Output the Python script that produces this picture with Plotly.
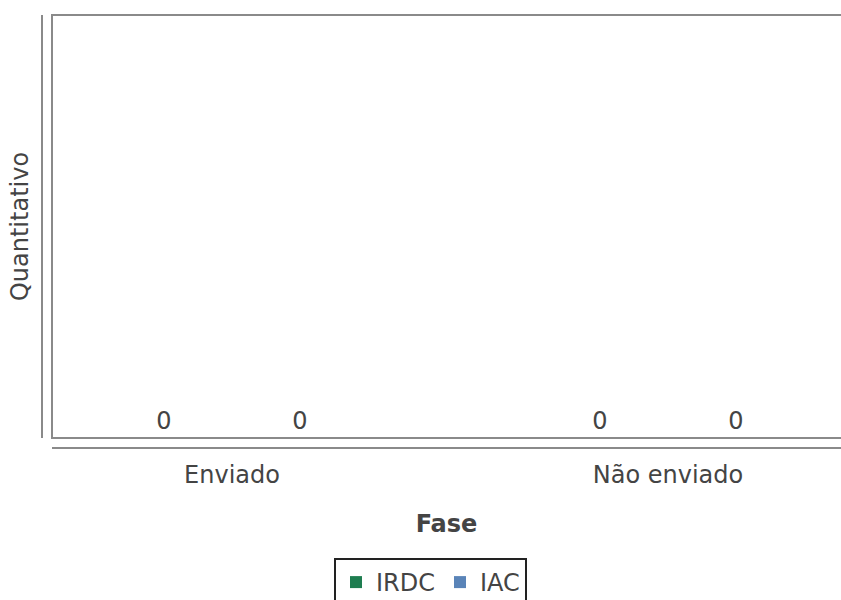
import plotly.graph_objects as go

categories = ["Enviado", "Não enviado"]
irdc_values = [0, 0]
iac_values = [0, 0]
series_names = ["IRDC", "IAC"]
series_colors = ["#1e7d50", "#5a84b8"]

FONT = "DejaVu Sans"
TXT = "#444444"
LINE = "#8a8a8a"

W, H = 841, 600
ml, mt = 42, 15
axis_y = 448
paper_w = W - ml
paper_h = axis_y - mt

fig = go.Figure()
for name, vals, col in zip(series_names, [irdc_values, iac_values], series_colors):
    fig.add_trace(go.Bar(
        x=categories, y=vals, name=name, marker=dict(color=col, line=dict(width=0)),
        texttemplate="%{y}", textposition="outside", cliponaxis=False,
        textfont=dict(family=FONT, size=24, color=TXT),
    ))

# category axis scale: 436 px per category, first category centre 180 px from plot left
plot_left = ml + 10
plot_w = W - plot_left
r0 = -180 / 436
r1 = r0 + plot_w / 436

fig.update_layout(
    template="none",
    width=W, height=H,
    margin=dict(l=ml, r=0, t=mt, b=H - axis_y, pad=0, autoexpand=False),
    paper_bgcolor="white", plot_bgcolor="white",
    barmode="group", bargap=0.376, bargroupgap=0,
    font=dict(family=FONT, size=24, color=TXT),
    xaxis=dict(
        domain=[10 / paper_w, 1], range=[r0, r1], type="category",
        showline=True, linecolor=LINE, linewidth=2,
        anchor="free", position=0, automargin=False,
        showgrid=False, zeroline=False, ticks="",
        tickfont=dict(family=FONT, size=24, color=TXT),
        ticklabelstandoff=5,
        title=dict(text="<b>Fase</b>", font=dict(family=FONT, size=24, color=TXT), standoff=26),
    ),
    yaxis=dict(
        domain=[10 / paper_h, 1], range=[0, 1],
        showline=True, linecolor=LINE, linewidth=2,
        anchor="free", position=0, automargin=False,
        showgrid=False, zeroline=False, ticks="", showticklabels=False,
        title=dict(text="Quantitativo", font=dict(family=FONT, size=24, color=TXT), standoff=5),
    ),
    legend=dict(
        orientation="h", x=(334 - ml) / paper_w, xanchor="left",
        y=(axis_y - 558) / paper_h, yanchor="top",
        bordercolor="#222222", borderwidth=2, bgcolor="white",
        font=dict(family=FONT, size=24, color=TXT),
        itemwidth=30, tracegroupgap=0,
    ),
    showlegend=True,
)

fig.add_shape(type="rect", xref="x domain", yref="y domain",
              x0=0, x1=1.05, y0=0, y1=1,
              line=dict(color=LINE, width=2), fillcolor="rgba(0,0,0,0)", layer="above")

fig.write_html("out.html", config={"displayModeBar": False},
               post_script="document.body.style.margin='0';document.body.style.overflow='hidden';")
